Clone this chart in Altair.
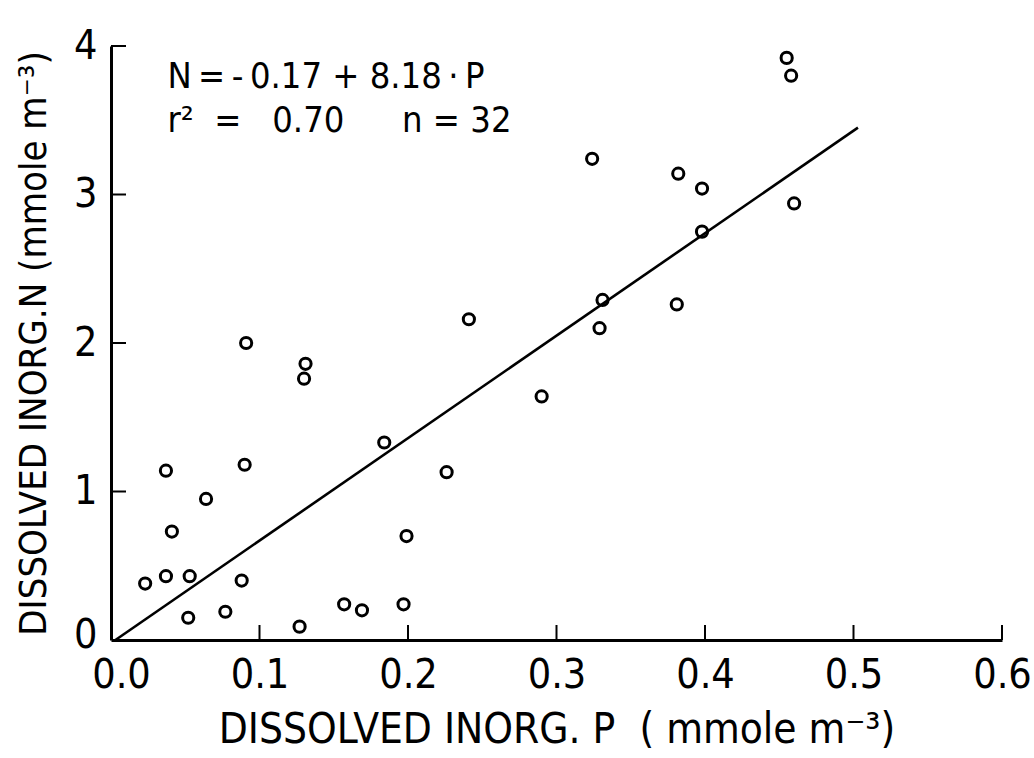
import altair as alt
import pandas as pd

p_values = [0.023, 0.037, 0.053, 0.052, 0.077, 0.088, 0.127, 0.157, 0.169, 0.197,
            0.199, 0.226, 0.037, 0.090, 0.064, 0.041, 0.184, 0.455, 0.458, 0.324,
            0.382, 0.398, 0.460, 0.398, 0.331, 0.329, 0.381, 0.091, 0.131, 0.130,
            0.241, 0.290]
n_values = [0.38, 0.43, 0.43, 0.15, 0.19, 0.40, 0.09, 0.24, 0.20, 0.24,
            0.70, 1.13, 1.14, 1.18, 0.95, 0.73, 1.33, 3.92, 3.80, 3.24,
            3.14, 3.04, 2.94, 2.75, 2.29, 2.10, 2.26, 2.00, 1.86, 1.76,
            2.16, 1.64]

# Fitted line as drawn
line_p = [0.003, 0.503]
line_n = [0.0, 3.45]

x_ticks = [0.1, 0.2, 0.3, 0.4, 0.5, 0.6]
y_ticks = [1, 2, 3, 4]

T = "\u2009"
S = "\u00a0"
ann_text = [f"N{T}={T}-{T}0.17 + 8.18{T}·{T}P", f"r²{S}{S}={S}{S}{S}0.70", "n = 32"]
ann_p = [0.038, 0.038, 0.196]
ann_n = [3.72, 3.42, 3.42]

FONT = "DejaVu Sans Condensed, sans-serif"
W, H = 891, 594

pts = pd.DataFrame({"P": p_values, "N": n_values})
ln = pd.DataFrame({"P": line_p, "N": line_n})
xt = pd.DataFrame({"P": x_ticks})
yt = pd.DataFrame({"N": y_ticks})
ann = pd.DataFrame({"P": ann_p, "N": ann_n, "t": ann_text})

xscale = alt.Scale(domain=[0, 0.6], nice=False, zero=False)
yscale = alt.Scale(domain=[0, 4], nice=False, zero=False)

xaxis = alt.Axis(values=[0, 0.1, 0.2, 0.3, 0.4, 0.5, 0.6], format=".1f", ticks=False, tickSize=0,
                 grid=False, domainColor="black", domainWidth=3, labelFont=FONT, labelFontSize=41,
                 labelColor="black", labelPadding=15, labelFlush=False,
                 labelOffset=alt.condition("datum.value == 0", alt.value(10), alt.value(0)),
                 title=f"DISSOLVED INORG. P{S} ( mmole m⁻³)", titleFont=FONT, titleFontSize=42,
                 titleFontWeight="normal", titleColor="black", titlePadding=14)
yaxis = alt.Axis(values=[0, 1, 2, 3, 4], format="d", ticks=False, tickSize=0,
                 grid=False, domainColor="black", domainWidth=3, labelFont=FONT, labelFontSize=41,
                 labelColor="black", labelPadding=14, labelFlush=False,
                 labelOffset=alt.condition("datum.value == 0", alt.value(-5), alt.value(0)),
                 title="DISSOLVED INORG.N (mmole m⁻³)", titleFont=FONT, titleFontSize=38,
                 titleFontWeight="normal", titleColor="black", titlePadding=20)

points = alt.Chart(pts).mark_point(shape="circle", filled=False, size=125, strokeWidth=3,
                                   color="black", opacity=1).encode(
    x=alt.X("P:Q", scale=xscale, axis=xaxis),
    y=alt.Y("N:Q", scale=yscale, axis=yaxis),
)

fit = alt.Chart(ln).mark_line(color="black", strokeWidth=2.6).encode(
    x=alt.X("P:Q", scale=xscale), y=alt.Y("N:Q", scale=yscale))

xtick = alt.Chart(xt).mark_rule(color="black", strokeWidth=2).encode(
    x=alt.X("P:Q", scale=xscale), y=alt.value(H), y2=alt.value(H - 15))

ytick = alt.Chart(yt).mark_rule(color="black", strokeWidth=2).encode(
    y=alt.Y("N:Q", scale=yscale), x=alt.value(0), x2=alt.value(15))

text = alt.Chart(ann).mark_text(align="left", baseline="alphabetic", font=FONT, fontSize=36,
                                color="black").encode(
    x=alt.X("P:Q", scale=xscale), y=alt.Y("N:Q", scale=yscale), text="t:N")

chart = alt.layer(fit, points, xtick, ytick, text).properties(
    width=W, height=H,
    autosize=alt.AutoSizeParams(type="none"),
    padding={"left": 111, "top": 46, "right": 32, "bottom": 118},
    background="white",
).configure_view(stroke=None)

chart.save("out.html", embed_options={"renderer": "svg", "actions": False})
